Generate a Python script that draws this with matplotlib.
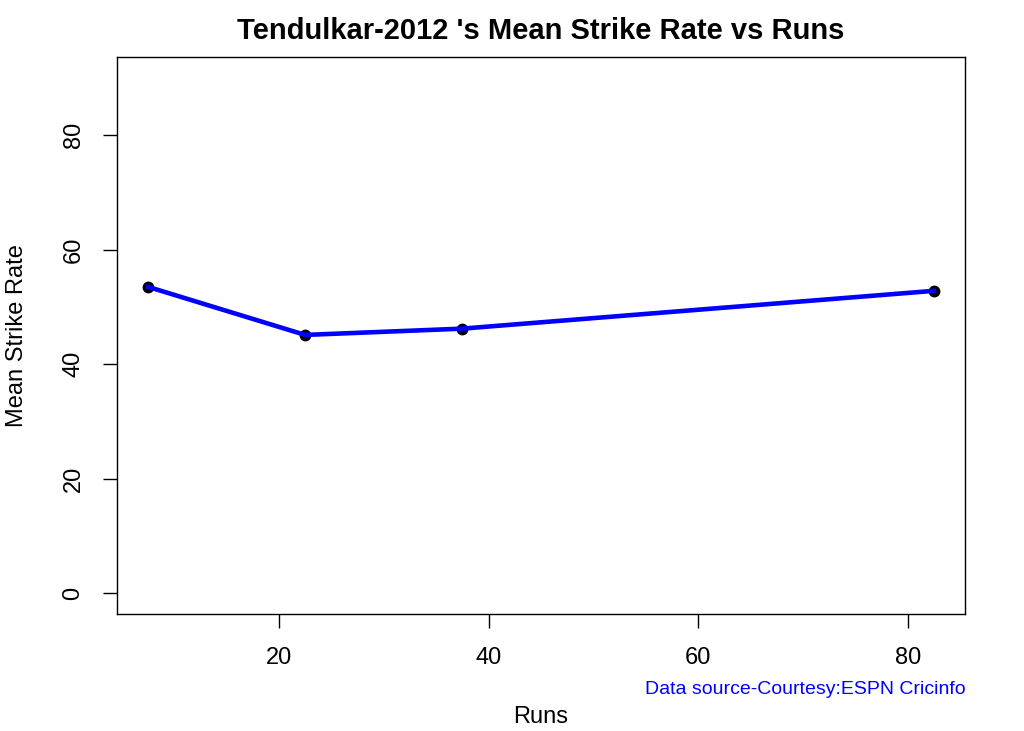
import matplotlib
matplotlib.use("Agg")
import matplotlib.pyplot as plt

runs = [7.5, 22.5, 37.5, 82.5]
mean_sr = [53.5, 45.1, 46.2, 52.8]
xticks = [20, 40, 60, 80]
yticks = [0, 20, 40, 60, 80]

plt.rcParams['font.family'] = ['Liberation Sans', 'DejaVu Sans']

W, H = 1024, 731
fig = plt.figure(figsize=(W / 100, H / 100), dpi=100)
L, R, T, B = 116.5, 965.3, 57.2, 613.8
ax = fig.add_axes([L / W, 1 - B / H, (R - L) / W, (B - T) / H])

ax.plot(runs, mean_sr, 'o', color='black', markersize=7.5, zorder=2)
ax.plot(runs, mean_sr, '-', color='#0000ff', linewidth=3.3, zorder=3)

ax.set_xlim(4.5, 85.5)
ax.set_ylim(-3.6, 93.6)
ax.set_xticks(xticks)
ax.set_yticks(yticks)
ax.set_yticklabels([str(v) for v in yticks], rotation=90, va='center')
ax.tick_params(direction='out', length=10, width=1, labelsize=17, pad=14)
ax.tick_params(axis='y', pad=13)
for s in ax.spines.values():
    s.set_linewidth(1)

fig.text((L + R) / 2 / W, 1 - 31 / H, "Tendulkar-2012 's Mean Strike Rate vs Runs",
         ha='center', va='center', fontsize=21, fontweight='bold')
fig.text((L + R) / 2 / W, 1 - 717 / H, "Runs", ha='center', va='center', fontsize=17)
fig.text(17 / W, 1 - (B + T) / 2 / H, "Mean Strike Rate", ha='center', va='center',
         rotation=90, fontsize=17)
fig.text(R / W, 1 - 689 / H, "Data source-Courtesy:ESPN Cricinfo", ha='right',
         va='center', fontsize=14, color='#0000ff')

fig.savefig("out.png", dpi=100)
